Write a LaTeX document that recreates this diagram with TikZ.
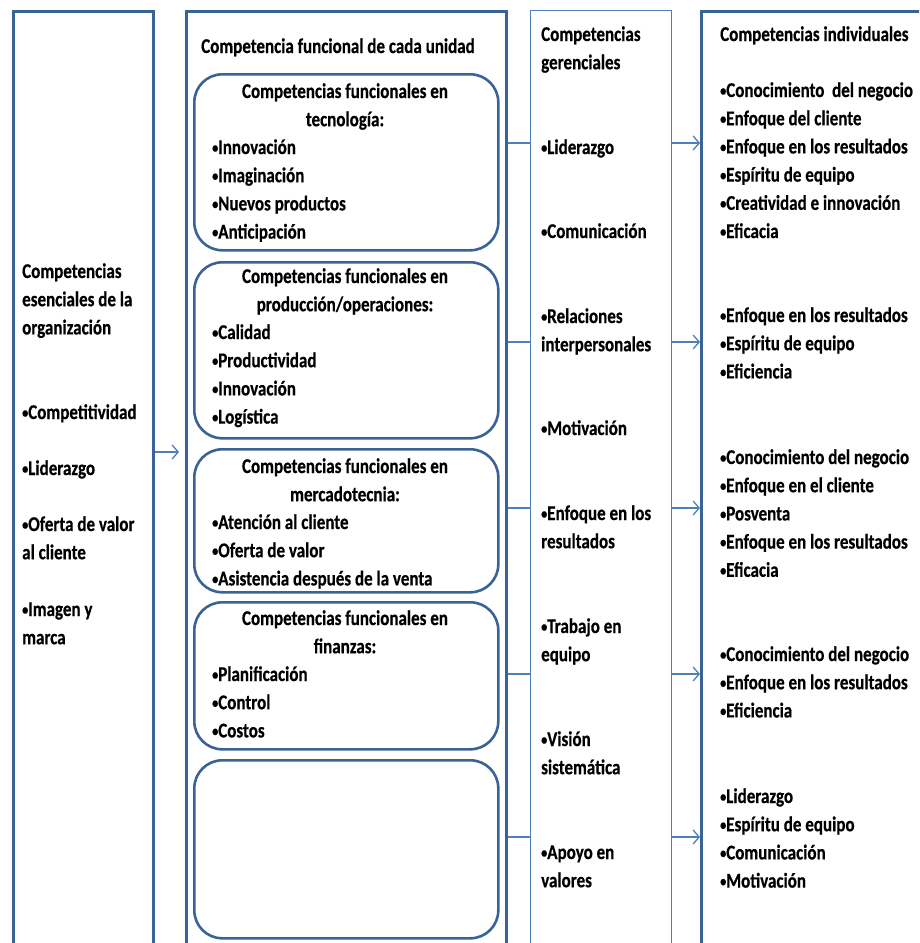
\documentclass[tikz,border=0pt]{standalone}
\usepackage{fontspec}
\setmainfont{Carlito}[FakeStretch=0.81, BoldFeatures={FakeBold=0.5}]
\usetikzlibrary{arrows.meta}
\definecolor{frameblue}{HTML}{3A6395}
\definecolor{wireblue}{HTML}{4F7FBA}
\newcommand{\bul}{\raisebox{1.3pt}{\fontsize{15}{15}\selectfont•}}
\newcommand{\lines}[1]{\begin{tabular}[t]{@{}l@{}}#1\end{tabular}}
\newcommand{\clines}[1]{\begin{tabular}[t]{@{}c@{}}#1\end{tabular}}
\tikzset{
  colbox/.style={draw=frameblue, line width=2.6pt, rectangle, anchor=north west, inner sep=0pt},
  midcol/.style={draw=wireblue, line width=1.3pt, rectangle, anchor=north west, inner sep=0pt},
  unitbox/.style={draw=frameblue, line width=2.6pt, rectangle, rounded corners=28pt,
    anchor=north west, inner sep=0pt, minimum width=304pt},
  txt/.style={font=\bfseries\fontsize{21}{28.2}\selectfont, inner sep=0pt, anchor=base west},
  ctxt/.style={txt, anchor=base},
  wire/.style={draw=wireblue, line width=1.3pt},
  arrowwire/.style={wire, -{Straight Barb[length=6pt,width=14pt,line width=1.3pt]}},
}
\begin{document}
\begin{tikzpicture}[x=1pt, y=-1pt]
\useasboundingbox (0,0) rectangle (919,943);
\begin{scope}
\clip (0,0) rectangle (919,943);
% the four columns (open at the bottom)
\node[colbox, minimum width=140pt, minimum height=960pt] (c1) at (12,10) {};
\node[colbox, minimum width=320pt, minimum height=960pt] (c2) at (185,10) {};
\node[midcol, minimum width=141pt, minimum height=960pt] (c3) at (530,10) {};
\node[colbox, minimum width=240pt, minimum height=960pt] (c4) at (700,10) {};
\end{scope}

% functional units inside the second column
\node[unitbox, minimum height=176pt] (u1) at (193,73) {};
\node[unitbox, minimum height=176pt] (u2) at (193,261) {};
\node[unitbox, minimum height=143pt] (u3) at (193,448) {};
\node[unitbox, minimum height=147pt] (u4) at (193,601) {};
\node[unitbox, minimum height=178pt] (u5) at (193,759) {};

% column 1: core competencies
\node[txt] (t1a) at (22,278) {\lines{Competencias\\esenciales de la\\organización}};
\node[txt] (t1b) at (22,419) {\bul Competitividad};
\node[txt] (t1c) at (22,475) {\bul Liderazgo};
\node[txt] (t1d) at (22,531) {\lines{\bul Oferta de valor\\al cliente}};
\node[txt] (t1e) at (22,616) {\lines{\bul Imagen y\\marca}};

% column 2: functional competencies
\node[txt] (t2) at (201,53) {Competencia funcional de cada unidad};
\node[ctxt] (u1t) at (345,98) {\clines{Competencias funcionales en\\tecnología:}};
\node[txt] (u1i) at (212,154) {\lines{\bul Innovación\\\bul Imaginación\\\bul Nuevos productos\\\bul Anticipación}};
\node[ctxt] (u2t) at (345,283) {\clines{Competencias funcionales en\\producción/operaciones:}};
\node[txt] (u2i) at (212,339) {\lines{\bul Calidad\\\bul Productividad\\\bul Innovación\\\bul Logística}};
\node[ctxt] (u3t) at (345,473) {\clines{Competencias funcionales en\\mercadotecnia:}};
\node[txt] (u3i) at (212,529) {\lines{\bul Atención al cliente\\\bul Oferta de valor\\\bul Asistencia después de la venta}};
\node[ctxt] (u4t) at (345,625) {\clines{Competencias funcionales en\\finanzas:}};
\node[txt] (u4i) at (212,681) {\lines{\bul Planificación\\\bul Control\\\bul Costos}};

% column 3: managerial competencies
\node[txt] (t3) at (541,41) {\lines{Competencias\\gerenciales}};
\node[txt] (g1) at (541,154) {\bul Liderazgo};
\node[txt] (g2) at (541,238) {\bul Comunicación};
\node[txt] (g3) at (541,323) {\lines{\bul Relaciones\\interpersonales}};
\node[txt] (g4) at (541,435) {\bul Motivación};
\node[txt] (g5) at (541,520) {\lines{\bul Enfoque en los\\resultados}};
\node[txt] (g6) at (541,633) {\lines{\bul Trabajo en\\equipo}};
\node[txt] (g7) at (541,746) {\lines{\bul Visión\\sistemática}};
\node[txt] (g8) at (541,859) {\lines{\bul Apoyo en\\valores}};

% column 4: individual competencies
\node[txt] (t4) at (720,41) {Competencias individuales};
\node[txt] (i1) at (720,97) {\lines{\bul Conocimiento\ \ del negocio\\\bul Enfoque del cliente\\\bul Enfoque en los resultados\\\bul Espíritu de equipo\\\bul Creatividad e innovación\\\bul Eficacia}};
\node[txt] (i2) at (720,322) {\lines{\bul Enfoque en los resultados\\\bul Espíritu de equipo\\\bul Eficiencia}};
\node[txt] (i3) at (720,464) {\lines{\bul Conocimiento del negocio\\\bul Enfoque en el cliente\\\bul Posventa\\\bul Enfoque en los resultados\\\bul Eficacia}};
\node[txt] (i4) at (720,661) {\lines{\bul Conocimiento del negocio\\\bul Enfoque en los resultados\\\bul Eficiencia}};
\node[txt] (i5) at (720,803) {\lines{\bul Liderazgo\\\bul Espíritu de equipo\\\bul Comunicación\\\bul Motivación}};

% connector heights
\coordinate (r0) at (0,452);
\coordinate (r1) at (0,143);
\coordinate (r2) at (0,342);
\coordinate (r3) at (0,508);
\coordinate (r4) at (0,674);
\coordinate (r5) at (0,837);

\draw[arrowwire, shorten >=6pt] (c1.east |- r0) -- (c2.west |- r0);
\foreach \r in {r1,r2,r3,r4,r5}{
  \draw[wire] (c2.east |- \r) -- (c3.west |- \r);
  \draw[arrowwire] (c3.east |- \r) -- (c4.west |- \r);
}
\end{tikzpicture}
\end{document}
